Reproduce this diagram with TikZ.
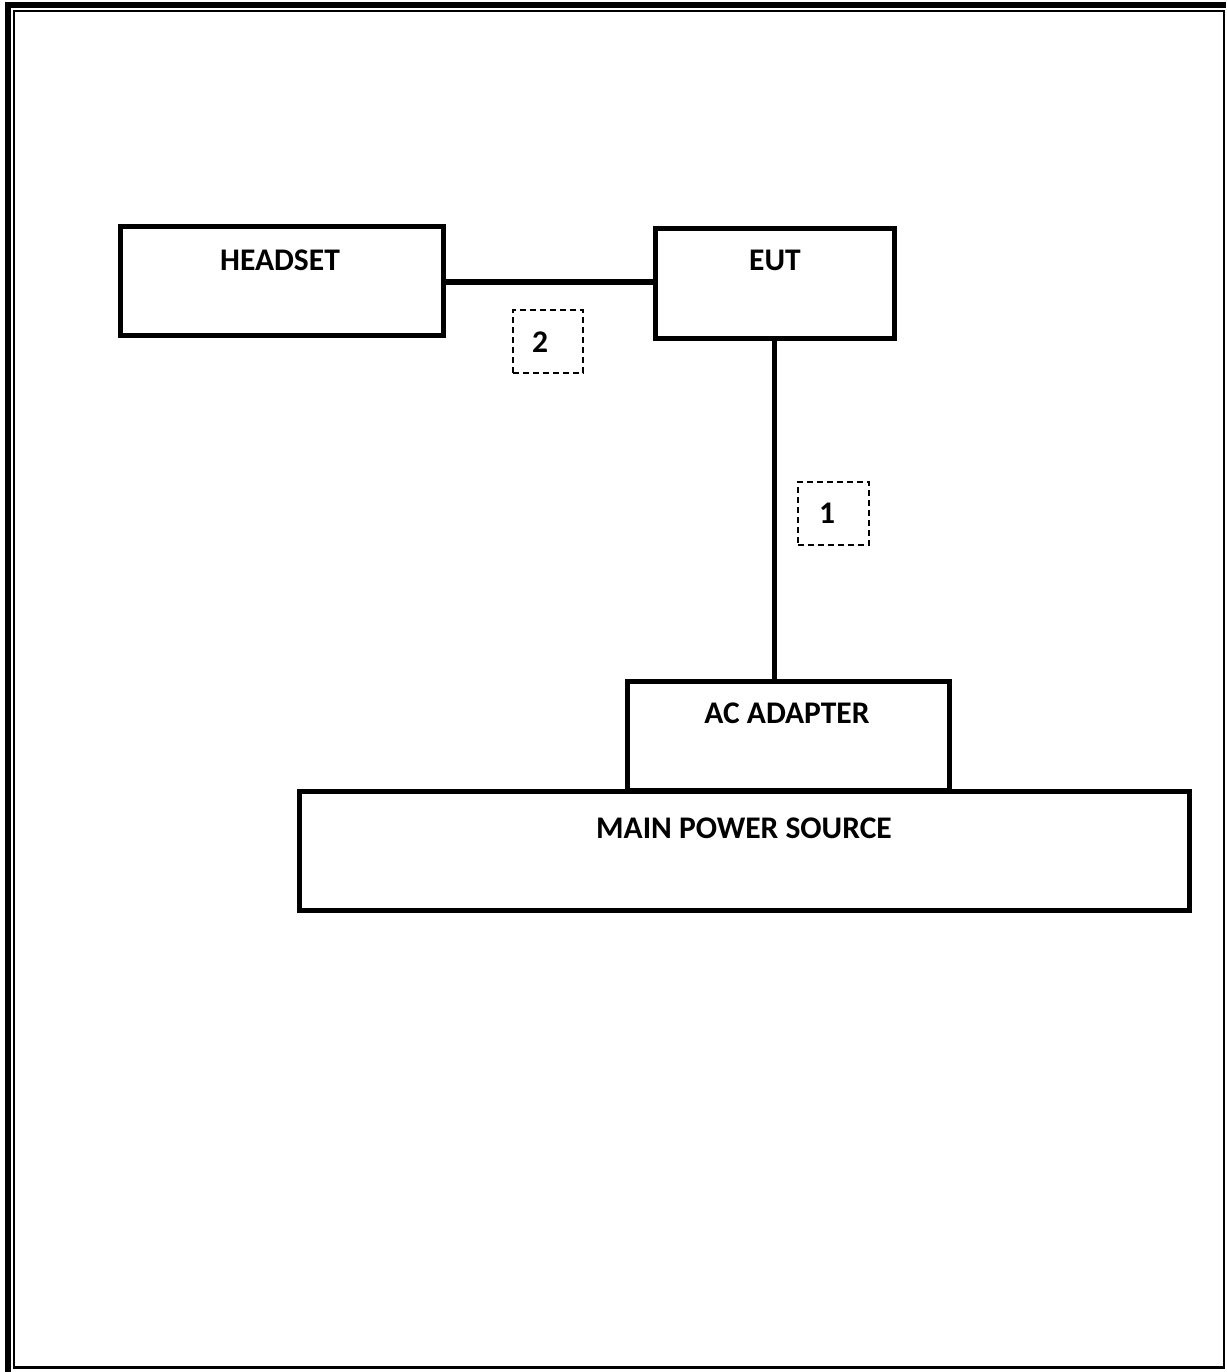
\documentclass[tikz,border=0pt]{standalone}
\usepackage{fontspec}
\setmainfont{Carlito}
\begin{document}
\begin{tikzpicture}[x=1pt,y=-1pt,
  box/.style={draw,line width=5pt,minimum width=#1,inner sep=0pt},
  lbl/.style={anchor=base,inner sep=0pt,font=\fontsize{31.5}{34}\selectfont\bfseries},
  tag/.style={draw,line width=1.3pt,dash pattern=on 6pt off 4pt,inner sep=0pt},
  cable/.style={line width=5.5pt}]
\useasboundingbox (0,0) rectangle (1226,1372);
% frame
\draw[line width=6pt] (8,1372) -- (8,5) -- (1226,5);
\draw[line width=2.5pt] (14,11) rectangle (1224,1367.7);
% boxes
\node[box=322.5pt,minimum height=108pt] (headset) at (281.75,281) {};
\node[box=239.5pt,minimum height=109pt] (eut) at (774.75,283.5) {};
\node[box=322pt,minimum height=109pt] (ac) at (788,735.5) {};
\node[box=890pt,minimum height=119pt] (mps) at (744,850.5) {};
% labels
\node[lbl] (tHeadset) at (280,270) {HEADSET};
\node[lbl] (tEut) at (775,270) {EUT};
\node[lbl] (tAc) at (787,723) {AC ADAPTER};
\node[lbl] (tMps) at (744,838) {MAIN POWER SOURCE};
% cables
\draw[cable] (headset.east |- 0,282) -- (eut.west |- 0,282);
\draw[cable] (774.5,0 |- eut.south) -- (774.5,0 |- ac.north);
% cable tags
\node[tag,minimum width=70pt,minimum height=63pt] (tag2) at (548,341.5) {};
\node[lbl] (n2) at (540,352) {2};
\node[tag,minimum width=71pt,minimum height=63pt] (tag1) at (833.5,513.5) {};
\node[lbl] (n1) at (827,523) {1};
\end{tikzpicture}
\end{document}
